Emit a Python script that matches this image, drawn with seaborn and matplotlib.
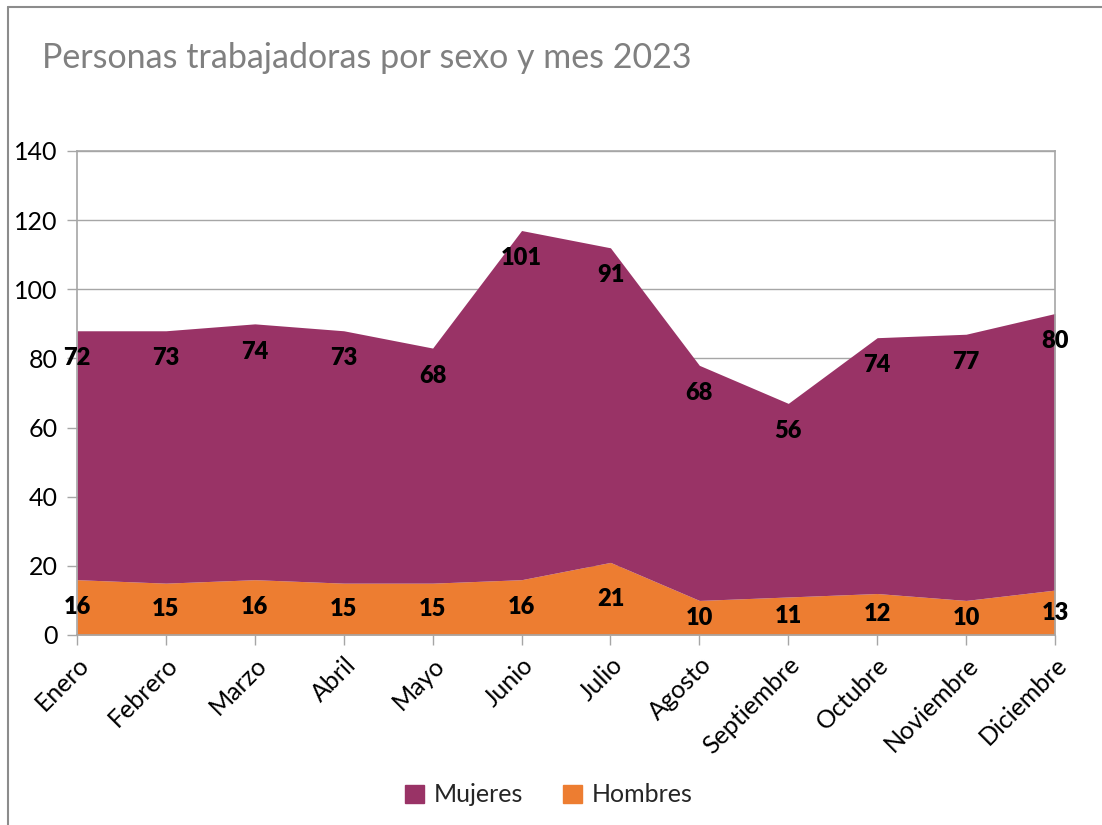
import matplotlib
matplotlib.use('Agg')
import matplotlib.pyplot as plt
from matplotlib.lines import Line2D
from matplotlib.patches import Patch
import seaborn as sns
import numpy as np

meses = ['Enero', 'Febrero', 'Marzo', 'Abril', 'Mayo', 'Junio', 'Julio',
         'Agosto', 'Septiembre', 'Octubre', 'Noviembre', 'Diciembre']
mujeres = [72, 73, 74, 73, 68, 101, 91, 68, 56, 74, 77, 80]
hombres = [16, 15, 16, 15, 15, 16, 21, 10, 11, 12, 10, 13]

color_mujeres = '#993366'
color_hombres = '#ED7D31'
gris = '#A6A6A6'

sns.set_theme(style='white')
plt.rcParams['font.family'] = ['Lato', 'DejaVu Sans']

fig = plt.figure(figsize=(11.02, 8.25), dpi=100)
ax = fig.add_axes([77 / 1102, 1 - 635 / 825, (1055 - 77) / 1102, (635 - 151) / 825])

x = np.arange(len(meses))
h = np.array(hombres)
m = np.array(mujeres)
total = h + m

ax.stackplot(x, h, m, colors=[color_hombres, color_mujeres], linewidth=0, zorder=2)

# etiquetas de datos
for i in x:
    ax.text(i, h[i] / 2, str(h[i]), ha='center', va='center',
            fontsize=17, fontweight='heavy', color='black', zorder=3)
    ax.text(i, total[i] - 8, str(m[i]), ha='center', va='center',
            fontsize=17, fontweight='heavy', color='black', zorder=3)

ax.set_xlim(0, len(meses) - 1)
ax.set_ylim(0, 140)
ax.set_yticks(range(0, 141, 20))
ax.set_xticks(x)
ax.set_xticklabels(meses, rotation=45, ha='right', rotation_mode='anchor')
ax.tick_params(axis='both', labelsize=18, colors=gris, labelcolor='black',
               length=7, width=1, direction='out', bottom=True, left=True)
ax.tick_params(axis='x', pad=6)
ax.tick_params(axis='y', pad=7)
ax.yaxis.grid(True, color=gris, linewidth=1, zorder=1)
ax.set_axisbelow(True)
for s in ax.spines.values():
    s.set_color(gris)
    s.set_linewidth(1.2)

fig.text(42 / 1102, 1 - 58 / 825, 'Personas trabajadoras por sexo y mes 2023',
         fontsize=24.5, color='#808080', va='center', ha='left')

handles = [Patch(color=color_mujeres, label='Mujeres'),
           Patch(color=color_hombres, label='Hombres')]
fig.legend(handles=handles, loc='center', bbox_to_anchor=(549 / 1102, 1 - 795 / 825),
           ncol=2, frameon=False, fontsize=18, handlelength=0.75, handleheight=0.75,
           handletextpad=0.4, columnspacing=1.6)

# marco exterior del gráfico
fig.add_artist(Line2D([8 / 1102, 1], [1 - 7 / 825, 1 - 7 / 825], color='#8C8C8C',
                      linewidth=1.5, transform=fig.transFigure))
fig.add_artist(Line2D([8 / 1102, 8 / 1102], [0, 1 - 7 / 825], color='#8C8C8C',
                      linewidth=1.5, transform=fig.transFigure))

fig.savefig('out.png', dpi=100)
